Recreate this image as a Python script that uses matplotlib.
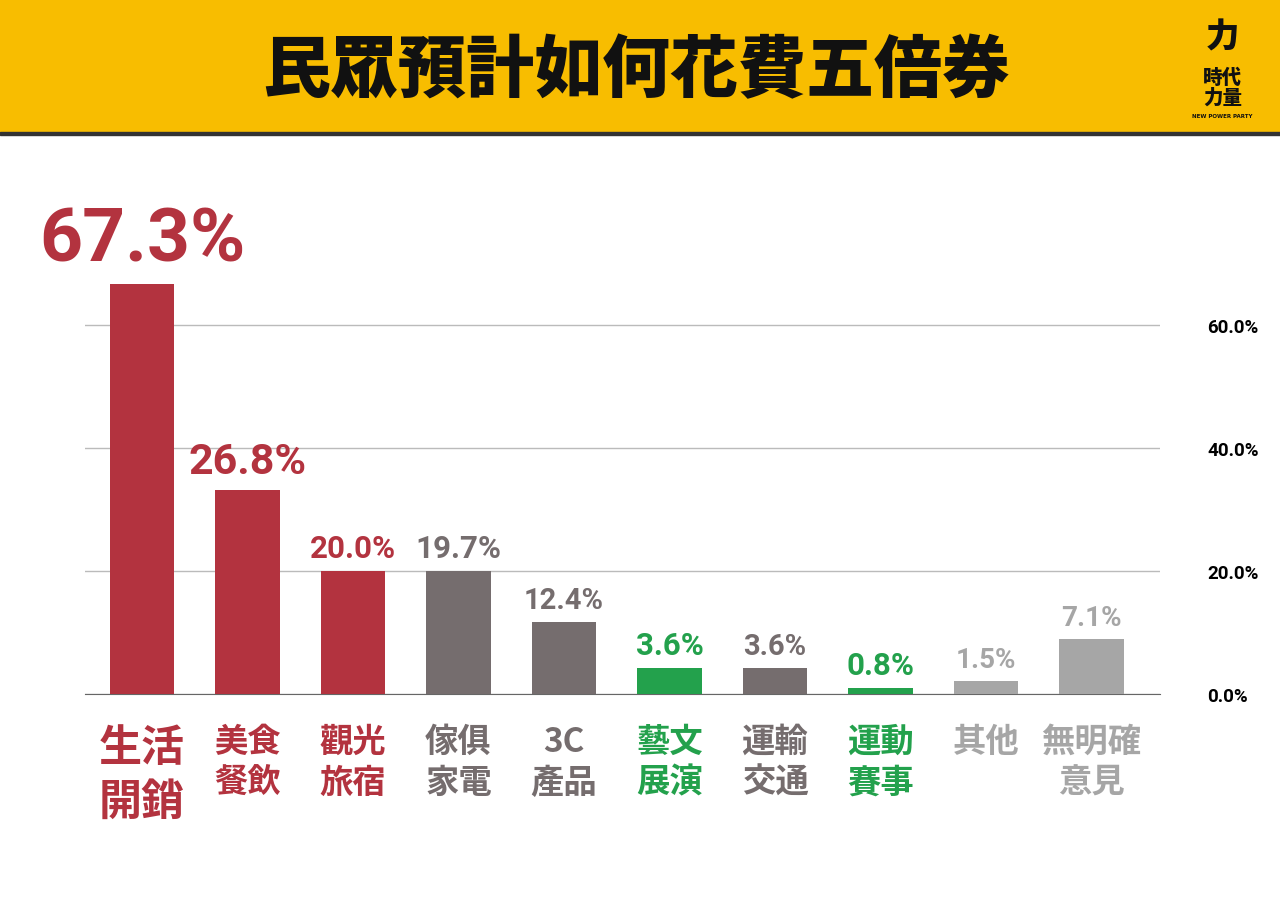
import matplotlib.pyplot as plt
import matplotlib.ticker as mticker
from matplotlib import font_manager

categories = ["生活\n開銷", "美食\n餐飲", "觀光\n旅宿", "傢俱\n家電", "3C\n產品",
              "藝文\n展演", "運輸\n交通", "運動\n賽事", "其他", "無明確\n意見"]
# bar heights as drawn in the picture, labels as printed
heights = [66.7, 33.2, 20.0, 20.0, 11.7, 4.2, 4.2, 1.0, 2.1, 8.9]
labels = ["67.3%", "26.8%", "20.0%", "19.7%", "12.4%", "3.6%", "3.6%", "0.8%", "1.5%", "7.1%"]

RED = "#B3333F"
GREY = "#756D6E"
GREEN = "#23A14C"
LIGHT = "#A6A6A6"
colors = [RED, RED, RED, GREY, GREY, GREEN, GREY, GREEN, LIGHT, LIGHT]
label_sizes = [54, 31, 22.5, 22.5, 21, 22.5, 21, 22.5, 20, 20]
cat_sizes = [31, 24, 24, 24, 24, 24, 24, 24, 24, 24]

names = {f.name for f in font_manager.fontManager.ttflist}
CJK = next((n for n in ["Noto Sans CJK TC", "Noto Sans CJK JP", "Noto Sans CJK SC"] if n in names), "DejaVu Sans")
NUM = "Liberation Sans Narrow" if "Liberation Sans Narrow" in names else "Roboto"

fig = plt.figure(figsize=(12.8, 9.04), dpi=100)

# header band
fig.patches.append(plt.Rectangle((0, 1 - 133 / 904), 1, 133 / 904, transform=fig.transFigure,
                                 color="#F8BD00", zorder=0))
fig.patches.append(plt.Rectangle((0, 1 - 136 / 904), 1, 3 / 904, transform=fig.transFigure,
                                 color="#333333", zorder=0))
fig.text(0.497, 1 - 72 / 904, "民眾預計如何花費五倍券", ha="center", va="center",
         fontsize=49, fontweight="black", color="#111111", fontfamily=CJK)
fig.text(0.955, 1 - 88 / 904, "時代\n力量", ha="center", va="center", fontsize=14,
         fontweight="black", color="#111111", linespacing=1.0, fontfamily=CJK)
fig.text(0.955, 1 - 37 / 904, "力", ha="center", va="center", fontsize=24,
         fontweight="black", color="#111111", fontfamily=CJK)
fig.text(0.955, 1 - 117 / 904, "NEW POWER PARTY", ha="center", va="center", fontsize=4,
         fontweight="bold", color="#111111")

ax = fig.add_axes([85 / 1280, 1 - 695 / 904, 1075 / 1280, 70 * 6.15 / 904])
x = range(len(categories))
ax.bar(x, heights, width=0.61, color=colors, zorder=3)
ax.set_xlim(-0.54, 9.65)
ax.set_ylim(0, 70)
ax.yaxis.tick_right()
ax.set_yticks([0, 20, 40, 60])
ax.yaxis.set_major_formatter(mticker.FuncFormatter(lambda v, p: f"{v:.1f}%"))
ax.tick_params(axis="y", length=0, pad=34, labelsize=13.5)
for t in ax.get_yticklabels():
    t.set_fontweight("bold")
    t.set_fontfamily("Roboto")
ax.grid(axis="y", color="#BBBBBB", linewidth=1, zorder=0)
for s in ["top", "left", "right"]:
    ax.spines[s].set_visible(False)
ax.spines["bottom"].set_color("#666666")
ax.set_xticks(list(x))
ax.set_xticklabels([])
ax.tick_params(axis="x", length=0)

for i, (h, lab) in enumerate(zip(heights, labels)):
    ax.text(i, h + 1.3, lab, ha="center", va="bottom", fontsize=label_sizes[i],
            fontweight="bold", color=colors[i], clip_on=False, fontfamily=NUM)
    ax.text(i, -5.0, categories[i], ha="center", va="top", fontsize=cat_sizes[i],
            fontweight="bold", color=colors[i], linespacing=1.3, clip_on=False,
            fontfamily=CJK)

fig.savefig("out.png", dpi=100, facecolor="white")
